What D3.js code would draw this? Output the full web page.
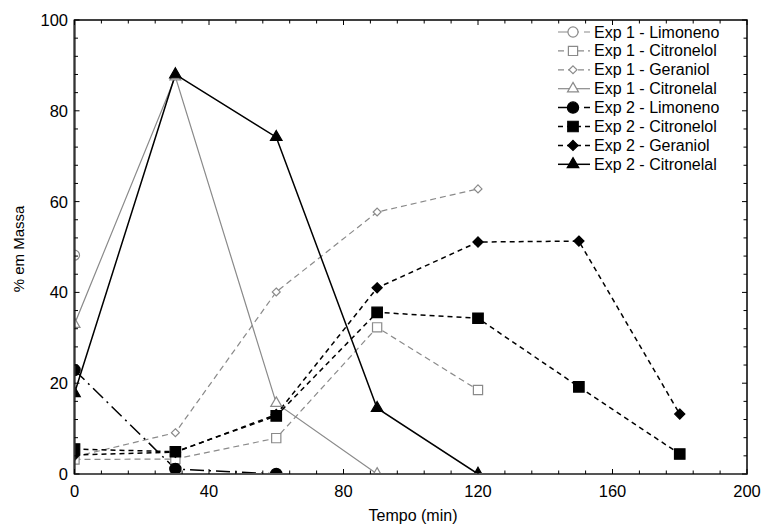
<!DOCTYPE html>
<html>
<head>
<meta charset="utf-8">
<script src="https://cdn.jsdelivr.net/npm/d3@7"></script>
<style>
  body { margin: 0; background: #fff; }
  text { font-family: "Liberation Sans", Arial, sans-serif; fill: #000; }
</style>
</head>
<body>
<div class="chart"></div>
<script>
"use strict";

const times = [0, 30, 60, 90, 120, 150, 180];

const exp1_limoneno   = [48.2, null, null, null, null, null, null];
const exp1_citronelol = [3.2, 3.3, 7.9, 32.3, 18.5, null, null];
const exp1_geraniol   = [3.8, 9.1, 40.1, 57.7, 62.8, null, null];
const exp1_citronelal = [33.0, 87.5, 15.6, 0, null, null, null];
const exp2_limoneno   = [22.9, 1.1, 0, null, null, null, null];
const exp2_citronelol = [5.5, 4.9, 12.8, 35.6, 34.3, 19.2, 4.4];
const exp2_geraniol   = [4.2, 4.8, 13.1, 41.0, 51.1, 51.3, 13.2];
const exp2_citronelal = [17.8, 88.0, 74.2, 14.5, 0, null, null];

const x_ticks = [0, 40, 80, 120, 160, 200];
const y_ticks = [0, 20, 40, 60, 80, 100];

const series = [
    { name: "Exp 1 - Limoneno",   values: exp1_limoneno,   color: "#8a8a8a", dash: "14,5,2,5", symbol: d3.symbolCircle,   fill: false, size: 80 },
    { name: "Exp 1 - Citronelol", values: exp1_citronelol, color: "#8a8a8a", dash: "6,4",      symbol: d3.symbolSquare,   fill: false, size: 85 },
    { name: "Exp 1 - Geraniol",   values: exp1_geraniol,   color: "#8a8a8a", dash: "6,4",      symbol: d3.symbolDiamond2, fill: false, size: 40 },
    { name: "Exp 1 - Citronelal", values: exp1_citronelal, color: "#8a8a8a", dash: null,       symbol: d3.symbolTriangle, fill: false, size: 52 },
    { name: "Exp 2 - Limoneno",   values: exp2_limoneno,   color: "#000",    dash: "14,5,2,5", symbol: d3.symbolCircle,   fill: true,  size: 100 },
    { name: "Exp 2 - Citronelol", values: exp2_citronelol, color: "#000",    dash: "5,4",      symbol: d3.symbolSquare,   fill: true,  size: 110 },
    { name: "Exp 2 - Geraniol",   values: exp2_geraniol,   color: "#000",    dash: "5,4",      symbol: d3.symbolDiamond2, fill: true,  size: 66 },
    { name: "Exp 2 - Citronelal", values: exp2_citronelal, color: "#000",    dash: null,       symbol: d3.symbolTriangle, fill: true,  size: 58 }
];

const config = { width: 764, height: 528, left: 74.5, right: 747, top: 20, bottom: 474 };

window.onload = () => draw_chart(config);

function draw_chart(config) {
    const svg = d3.select(".chart")
        .append("svg")
        .attr("width", config.width)
        .attr("height", config.height);

    const x = d3.scaleLinear().domain([0, 200]).range([config.left, config.right]);
    const y = d3.scaleLinear().domain([0, 100]).range([config.bottom, config.top]);

    svg.append("clipPath").attr("id", "plot-clip")
        .append("rect")
        .attr("x", config.left).attr("y", config.top)
        .attr("width", config.right - config.left)
        .attr("height", config.bottom - config.top);

    const plot = svg.append("g").attr("clip-path", "url(#plot-clip)");

    const line = d3.line()
        .defined((d) => d.v !== null)
        .x((d) => x(d.t))
        .y((d) => y(d.v));

    series.forEach((s) => {
        const pts = s.values.map((v, i) => ({ t: times[i], v: v }));
        plot.append("path")
            .attr("d", line(pts))
            .attr("fill", "none")
            .attr("stroke", s.color)
            .attr("stroke-width", s.fill ? 1.5 : 1.2)
            .attr("stroke-dasharray", s.dash);
    });

    series.forEach((s) => {
        const pts = s.values.map((v, i) => ({ t: times[i], v: v })).filter((d) => d.v !== null);
        plot.selectAll(null)
            .data(pts)
            .enter()
            .append("path")
            .attr("d", d3.symbol().type(s.symbol).size(s.size))
            .attr("transform", (d) => `translate(${x(d.t)},${y(d.v)})`)
            .attr("fill", s.fill ? s.color : "#fff")
            .attr("stroke", s.color)
            .attr("stroke-width", 1.2);
    });

    // frame with inward ticks
    const x_minor = d3.range(0, 201, 8);
    const y_minor = d3.range(0, 101, 4);

    const axes = svg.append("g");
    axes.append("rect")
        .attr("x", config.left).attr("y", config.top)
        .attr("width", config.right - config.left)
        .attr("height", config.bottom - config.top)
        .attr("fill", "none")
        .attr("stroke", "#000")
        .attr("stroke-width", 1.5);
    axes.append("line")
        .attr("x1", config.left).attr("x2", config.right)
        .attr("y1", config.bottom).attr("y2", config.bottom)
        .attr("stroke", "#555").attr("stroke-width", 2);
    axes.append("line")
        .attr("x1", config.left).attr("x2", config.left)
        .attr("y1", config.top).attr("y2", config.bottom)
        .attr("stroke", "#333").attr("stroke-width", 2);

    axes.selectAll(null).data(x_minor).enter().append("line")
        .attr("x1", (d) => x(d)).attr("x2", (d) => x(d))
        .attr("y1", config.bottom).attr("y2", (d) => config.bottom - (d % 40 === 0 ? 5 : 3.5))
        .attr("stroke", "#000").attr("stroke-width", 1);
    axes.selectAll(null).data(x_minor).enter().append("line")
        .attr("x1", (d) => x(d)).attr("x2", (d) => x(d))
        .attr("y1", config.top).attr("y2", (d) => config.top + (d % 40 === 0 ? 5 : 3.5))
        .attr("stroke", "#000").attr("stroke-width", 1);
    axes.selectAll(null).data(y_minor).enter().append("line")
        .attr("y1", (d) => y(d)).attr("y2", (d) => y(d))
        .attr("x1", config.left).attr("x2", (d) => config.left + (d % 20 === 0 ? 5 : 3.5))
        .attr("stroke", "#000").attr("stroke-width", 1);
    axes.selectAll(null).data(y_minor).enter().append("line")
        .attr("y1", (d) => y(d)).attr("y2", (d) => y(d))
        .attr("x1", config.right).attr("x2", (d) => config.right - (d % 20 === 0 ? 5 : 3.5))
        .attr("stroke", "#000").attr("stroke-width", 1);

    axes.selectAll(null).data(x_ticks).enter().append("text")
        .attr("x", (d) => x(d)).attr("y", 497)
        .attr("text-anchor", "middle")
        .attr("font-size", 16.5)
        .text((d) => d);
    axes.selectAll(null).data(y_ticks).enter().append("text")
        .attr("x", 68).attr("y", (d) => y(d) + 6)
        .attr("text-anchor", "end")
        .attr("font-size", 16.5)
        .text((d) => d);

    svg.append("text")
        .attr("x", 413).attr("y", 521)
        .attr("text-anchor", "middle")
        .attr("font-size", 16)
        .text("Tempo (min)");
    svg.append("text")
        .attr("transform", "translate(24,249) rotate(-90)")
        .attr("text-anchor", "middle")
        .attr("font-size", 15)
        .text("% em Massa");

    // legend
    const legend = svg.append("g");
    series.forEach((s, i) => {
        const ly = 32 + i * 18.9;
        const row = legend.append("g");
        row.append("line")
            .attr("x1", 558).attr("x2", 590)
            .attr("y1", ly).attr("y2", ly)
            .attr("stroke", s.color)
            .attr("stroke-width", s.fill ? 1.5 : 1.2)
            .attr("stroke-dasharray", s.dash);
        row.append("path")
            .attr("d", d3.symbol().type(s.symbol).size(s.size))
            .attr("transform", `translate(573,${ly})`)
            .attr("fill", s.fill ? s.color : "#fff")
            .attr("stroke", s.color)
            .attr("stroke-width", 1.2);
        row.append("text")
            .attr("x", 594).attr("y", ly + 5.5)
            .attr("font-size", 16)
            .text(s.name);
    });
}
</script>
</body>
</html>
